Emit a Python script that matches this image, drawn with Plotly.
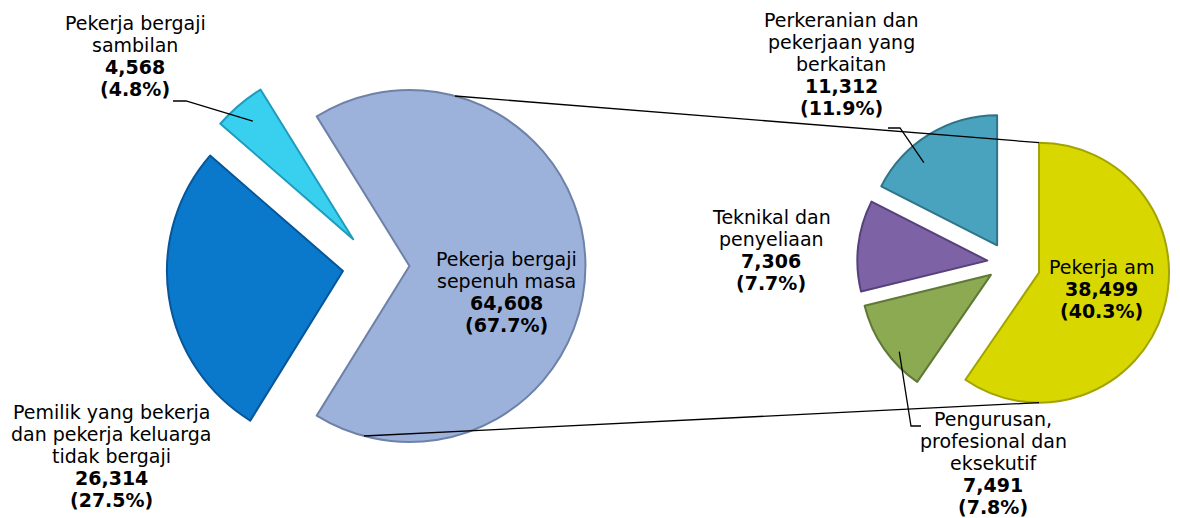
import math
import plotly.graph_objects as go

W, H = 1180, 518

# ---------------- data ----------------
main_names = ["Pekerja bergaji\nsepenuh masa",
              "Pemilik yang bekerja\ndan pekerja keluarga\ntidak bergaji",
              "Pekerja bergaji\nsambilan"]
main_values = [64608, 26314, 4568]
main_pcts = [67.7, 27.5, 4.8]

sub_names = ["Pekerja am",
             "Pengurusan,\nprofesional dan\neksekutif",
             "Teknikal dan\npenyeliaan",
             "Perkeranian dan\npekerjaan yang\nberkaitan"]
sub_values = [38499, 7491, 7306, 11312]
sub_pcts = [40.3, 7.8, 7.7, 11.9]

# ---------------- style ----------------
main_colors = ["#9CB2DB", "#0A79CC", "#39CFEF"]
main_edges = ["#6E82A8", "#06569A", "#1E9CBE"]
sub_colors = ["#D8D800", "#8CAA52", "#7E62A6", "#4AA3BE"]
sub_edges = ["#A3A300", "#5F7837", "#56417A", "#2F7489"]

FONT = "DejaVu Sans"
FS = 19
LINE = 22
YOFF = -9  # compensate annotation vertical placement

L = dict(cx=368, cy=258, r=176, pull=[0.19, 0.19, 0.2])
R = dict(cx=1000, cy=255, r=130, pull=[0.25, 0.16, 0.16, 0.16])
main_rot = 90 - 180 * main_values[0] / sum(main_values)
sub_rot = 0


def domain(g):
    half = g["r"] * (1 + max(g["pull"]))
    return dict(x=[(g["cx"] - half) / W, (g["cx"] + half) / W],
                y=[1 - (g["cy"] + half) / H, 1 - (g["cy"] - half) / H])


def slice_angles(values, rot):
    tot = sum(values)
    out, a = [], rot
    for v in values:
        span = 360 * v / tot
        out.append((a, a + span))
        a += span
    return out


def point(g, values, rot, i, ang, frac):
    a0, a1 = slice_angles(values, rot)[i]
    mid = math.radians((a0 + a1) / 2)
    p = g["pull"][i] * g["r"]
    ox, oy = p * math.sin(mid), -p * math.cos(mid)
    a = math.radians(ang)
    return (g["cx"] + ox + frac * g["r"] * math.sin(a),
            g["cy"] + oy - frac * g["r"] * math.cos(a))


def px(x, y):
    return x / W, 1 - y / H


fig = go.Figure()
fig.add_trace(go.Pie(
    labels=[n.replace("\n", " ") for n in main_names], values=main_values,
    sort=False, direction="clockwise", rotation=main_rot,
    pull=L["pull"], domain=domain(L), textinfo="none", hoverinfo="skip",
    marker=dict(colors=main_colors, line=dict(color=main_edges, width=2)),
    showlegend=False))
fig.add_trace(go.Pie(
    labels=[n.replace("\n", " ") for n in sub_names], values=sub_values,
    sort=False, direction="clockwise", rotation=sub_rot,
    pull=R["pull"], domain=domain(R), textinfo="none", hoverinfo="skip",
    marker=dict(colors=sub_colors, line=dict(color=sub_edges, width=2)),
    showlegend=False))

# ---------------- labels ----------------
annotations = []


def add_label(name, value, pct, cx, y0):
    lines = name.split("\n") + [f"<b>{value:,}</b>", f"<b>({pct:.1f}%)</b>"]
    for k, t in enumerate(lines):
        x, y = px(cx, y0 + k * LINE + YOFF)
        annotations.append(dict(x=x, y=y, xref="paper", yref="paper", text=t,
                                showarrow=False, xanchor="center", yanchor="middle",
                                font=dict(family=FONT, size=FS, color="#000000")))


main_label_pos = [(498, 260), (103, 413), (127, 24)]
sub_label_pos = [(1093, 268), (985, 420), (763, 218), (833, 21)]
for n, v, p, (cx, y0) in zip(main_names, main_values, main_pcts, main_label_pos):
    add_label(n, v, p, cx, y0)
for n, v, p, (cx, y0) in zip(sub_names, sub_values, sub_pcts, sub_label_pos):
    add_label(n, v, p, cx, y0)

# ---------------- connector & leader lines ----------------
shapes = []


def path(pts):
    d = ""
    for k, (x, y) in enumerate(pts):
        X, Y = px(x, y)
        d += ("M" if k == 0 else " L") + f" {X:.5f},{Y:.5f}"
    return dict(type="path", path=d, xref="paper", yref="paper",
                line=dict(color="#000000", width=1.3))


# pie-of-pie connectors
shapes.append(path([point(L, main_values, main_rot, 0, 15, 1.0),
                    point(R, sub_values, sub_rot, 0, 0, 1.0)]))
shapes.append(path([point(L, main_values, main_rot, 0, 195, 1.0),
                    point(R, sub_values, sub_rot, 0, 180, 1.0)]))

# leaders
ma = slice_angles(main_values, main_rot)
sa = slice_angles(sub_values, sub_rot)
cyan_mid = (ma[2][0] + ma[2][1]) / 2
shapes.append(path([(165, 93), (178, 93),
                    point(L, main_values, main_rot, 2, cyan_mid, 0.88)]))
teal_mid = (sa[3][0] + sa[3][1]) / 2
shapes.append(path([(880, 120), (892, 120),
                    point(R, sub_values, sub_rot, 3, teal_mid - 10, 0.85)]))
shapes.append(path([point(R, sub_values, sub_rot, 1, 230, 0.92),
                    (903, 418), (913, 418)]))

fig.update_layout(width=W, height=H, margin=dict(l=0, r=0, t=0, b=0, pad=0),
                  paper_bgcolor="#FFFFFF", plot_bgcolor="#FFFFFF",
                  annotations=annotations, shapes=shapes)
fig.write_html("out.html")
